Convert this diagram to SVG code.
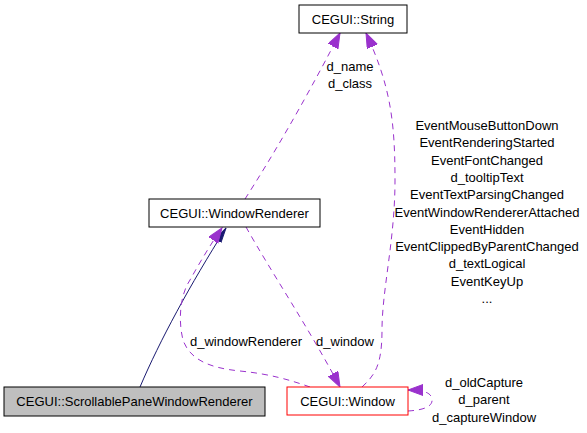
<svg xmlns="http://www.w3.org/2000/svg" width="587" height="433" viewBox="0 0 587 433">
<style>
  text { font-family: "Liberation Sans", Arial, sans-serif; font-size: 13px; fill: #000; text-anchor: middle; }
  .box { fill: #fff; stroke: #000; stroke-width: 1; }
  .dash { fill: none; stroke: #9a32cd; stroke-width: 1; stroke-dasharray: 6,5; }
  .solid { fill: none; stroke: #191970; stroke-width: 1; }
</style>
<defs>
  <marker id="ap" markerUnits="userSpaceOnUse" markerWidth="16" markerHeight="12" refX="15" refY="5.5" orient="auto">
    <path d="M0,0 L15,5.5 L0,11 z" fill="#9a32cd" stroke="#9a32cd" stroke-width="1"/>
  </marker>
  <marker id="an" markerUnits="userSpaceOnUse" markerWidth="16" markerHeight="12" refX="15" refY="5.5" orient="auto">
    <path d="M0,2 L15,5.5 L0,9 z" fill="#191970" stroke="#191970" stroke-width="1"/>
  </marker>
</defs>
<rect width="587" height="433" fill="#fff"/>
<g id="connectors">
  <path class="solid" d="M140,387 C160,340 190,285 226,228" marker-end="url(#an)"/>
  <path class="dash" d="M310,387 C290,380 270,374 240,371 C210,368 190,360 183,340 C178,320 180,295 190,280 C200,262 212,242 222,228" marker-end="url(#ap)"/>
  <path class="dash" d="M246,227 C270,270 310,330 340,387" marker-end="url(#ap)"/>
  <path class="dash" d="M362,387 C375,375 382,365 382,330 C382,290 395,240 395,180 C395,120 390,85 366,33" marker-end="url(#ap)"/>
  <path class="dash" d="M245,199 C270,160 300,110 340,33" marker-end="url(#ap)"/>
  <path class="dash" d="M408,411 C425,410 433,406 432,399 C431,392 422,390 408,390" marker-end="url(#ap)"/>
</g>
<g id="node-string">
  <rect class="box" x="299" y="5" width="108" height="28"/>
  <text x="353" y="23.5">CEGUI::String</text>
</g>
<g id="node-windowrenderer">
  <rect class="box" x="149" y="199" width="171" height="28"/>
  <text x="234.5" y="217.5">CEGUI::WindowRenderer</text>
</g>
<g id="node-scrollable">
  <rect x="4" y="387" width="261" height="29" fill="#bfbfbf" stroke="#000" stroke-width="1"/>
  <text x="134.5" y="406">CEGUI::ScrollablePaneWindowRenderer</text>
</g>
<g id="node-window">
  <rect x="287" y="387" width="121" height="28" fill="#fff" stroke="#ff0000" stroke-width="1"/>
  <text x="347.5" y="405.5">CEGUI::Window</text>
</g>
<g id="labels">
  <text x="350" y="70.5">d_name</text>
  <text x="350" y="87.5">d_class</text>
  <text x="246" y="346">d_windowRenderer</text>
  <text x="345" y="346">d_window</text>
  <text x="487" y="130">EventMouseButtonDown</text>
  <text x="487" y="147.3">EventRenderingStarted</text>
  <text x="487" y="164.6">EventFontChanged</text>
  <text x="487" y="181.9">d_tooltipText</text>
  <text x="487" y="199.2">EventTextParsingChanged</text>
  <text x="487" y="216.5">EventWindowRendererAttached</text>
  <text x="487" y="233.8">EventHidden</text>
  <text x="487" y="251.1">EventClippedByParentChanged</text>
  <text x="487" y="268.4">d_textLogical</text>
  <text x="487" y="285.7">EventKeyUp</text>
  <text x="487" y="303">...</text>
  <text x="484" y="387">d_oldCapture</text>
  <text x="484" y="404.3">d_parent</text>
  <text x="484" y="421.6">d_captureWindow</text>
</g>
</svg>
